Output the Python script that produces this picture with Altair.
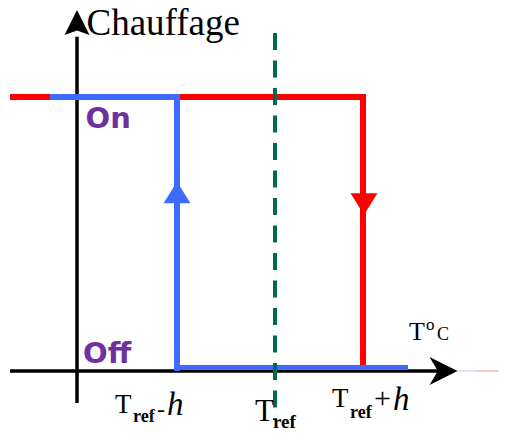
import altair as alt
import pandas as pd

# Temperature axis in arbitrary units (vertical axis at T = 0), heating state Off = 0 / On = 1
T_LEFT = -6.7        # left end of horizontal axis / red line
T_BLUE_START = -2.7  # where the blue "On" segment begins
T_LOW = 10.0         # Tref - h
T_REF = 19.8         # Tref
T_HIGH = 28.6        # Tref + h
T_BLUE_END = 33.1    # end of blue "Off" segment
T_AXIS_END = 37.0
T_AXIS_ARROW = 36.65
T_FAINT = [38.0, 40.0, 42.1]

STATE_OFF = 0.0
STATE_ON = 1.0
Y_AXIS_BOTTOM = -0.117
Y_AXIS_TOP = 1.22
Y_AXIS_ARROW = 1.272
DASH_TOP = 1.2336
DASH_BOTTOM = -0.1788
UP_ARROW_Y = 0.6515
DOWN_ARROW_Y = 0.6095

red_x = [T_LEFT, T_HIGH, T_HIGH]
red_y = [STATE_ON, STATE_ON, STATE_OFF]
blue_x = [T_BLUE_START, T_LOW, T_LOW]
blue_y = [STATE_ON, STATE_ON, STATE_OFF]

xs = alt.Scale(domain=[-6.9, 42.1], nice=False, zero=False)
ys = alt.Scale(domain=[-0.22628, 1.32482], nice=False, zero=False)

SERIF = "Liberation Serif"
SANS = "DejaVu Sans"
PURPLE = "#7030A0"
RED = "#FF0000"
BLUE = "#3D6BFF"
GREEN = "#006A4E"


def X(f="x"):
    return alt.X(f"{f}:Q", scale=xs, axis=None)


def Y(f="y"):
    return alt.Y(f"{f}:Q", scale=ys, axis=None)


def path_layer(xv, yv, color, width):
    df = pd.DataFrame({"x": xv, "y": yv, "i": list(range(len(xv)))})
    return alt.Chart(df).mark_line(color=color, strokeWidth=width, strokeJoin="miter").encode(
        x=X(), y=Y(), order=alt.Order("i:Q")
    )


def rule_layer(x1, x2, y1, y2, color, width, **kw):
    df = pd.DataFrame({"x": [x1], "x2": [x2], "y": [y1], "y2": [y2]})
    return alt.Chart(df).mark_rule(color=color, strokeWidth=width, **kw).encode(
        x=X(), x2="x2:Q", y=Y(), y2="y2:Q"
    )


def arrow_layer(x, y, shape, size, color):
    df = pd.DataFrame({"x": [x], "y": [y]})
    return alt.Chart(df).mark_point(
        shape=shape, size=size, filled=True, color=color, opacity=1, strokeWidth=0
    ).encode(x=X(), y=Y())


def text_layer(txt, x, y, font, size, color="black", weight="normal", style="normal"):
    df = pd.DataFrame({"x": [x], "y": [y], "t": [txt]})
    return alt.Chart(df).mark_text(
        align="left", baseline="alphabetic", font=font, fontSize=size,
        color=color, fontWeight=weight, fontStyle=style
    ).encode(x=X(), y=Y(), text="t:N")


layers = [
    # red branch (heating on until Tref + h)
    path_layer(red_x, red_y, RED, 6),
    # black axes
    rule_layer(T_LEFT, T_AXIS_END, STATE_OFF, STATE_OFF, "black", 3.5),
    rule_layer(0, 0, Y_AXIS_BOTTOM, Y_AXIS_TOP, "black", 3.5),
    rule_layer(T_FAINT[0], T_FAINT[1], STATE_OFF, STATE_OFF, "#D4D4FF", 1.5),
    rule_layer(T_FAINT[1], T_FAINT[2], STATE_OFF, STATE_OFF, "#FFB4B4", 1.5),
    arrow_layer(0, Y_AXIS_ARROW, "M0,-1L1,1L0,0.65L-1,1Z", 625, "black"),
    arrow_layer(T_AXIS_ARROW, STATE_OFF, "M1,0L-1,-1L-0.4,0L-1,1Z", 784, "black"),
    # blue branch (heating off until Tref - h)
    path_layer(blue_x, blue_y, BLUE, 6),
    alt.Chart(pd.DataFrame({"x": [T_LOW], "x2": [T_BLUE_END], "y": [STATE_OFF]}))
    .mark_rule(color=BLUE, strokeWidth=5, yOffset=-3.5)
    .encode(x=X(), x2="x2:Q", y=Y()),
    arrow_layer(T_LOW, UP_ARROW_Y, "M0,-0.8L1,0.8L-1,0.8Z", 729, BLUE),
    arrow_layer(T_HIGH + 0.1, DOWN_ARROW_Y, "M0,0.8L1,-0.8L-1,-0.8Z", 729, RED),
    # Tref dashed line
    rule_layer(T_REF, T_REF, DASH_TOP, DASH_BOTTOM, GREEN, 4, strokeDash=[17, 10.5]),
    # labels
    text_layer("Chauffage", 0.95, 1.2263, SERIF, 37),
    text_layer("On", 0.85, 0.8869, SANS, 29, PURPLE, "bold"),
    text_layer("Off", 0.6, 0.0292, SANS, 29, PURPLE, "bold"),
    text_layer("T", 33.2, 0.1131, SERIF, 26),
    text_layer("o", 34.9, 0.1496, SERIF, 17),
    text_layer("C", 36.0, 0.1131, SERIF, 18),
    # Tref - h
    text_layer("T", 3.8, -0.1533, SERIF, 27),
    text_layer("ref", 5.6, -0.1861, SERIF, 18, weight="bold"),
    text_layer("-", 8.0, -0.1679, SERIF, 24),
    text_layer("h", 9.0, -0.1606, SERIF, 33, style="italic"),
    # Tref
    text_layer("T", 17.8, -0.1825, SERIF, 31),
    text_layer("ref", 19.6, -0.2080, SERIF, 19, weight="bold"),
    # Tref + h
    text_layer("T", 25.5, -0.1314, SERIF, 27),
    text_layer("ref", 27.3, -0.1715, SERIF, 18, weight="bold"),
    text_layer("+", 29.7, -0.135, SERIF, 30),
    text_layer("h", 31.6, -0.1423, SERIF, 33, style="italic"),
]

chart = (
    alt.layer(*layers)
    .properties(
        width=490, height=425, padding=0, background="white",
        autosize=alt.AutoSizeParams(type="none"),
    )
    .configure_view(stroke=None)
)

chart.save("out.html", embed_options={"renderer": "svg", "actions": False})
